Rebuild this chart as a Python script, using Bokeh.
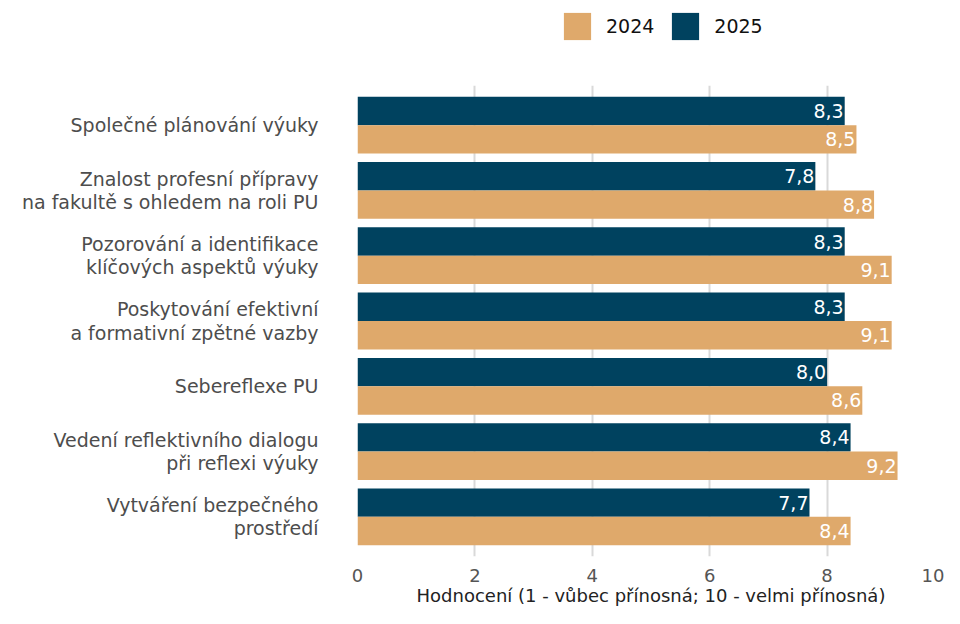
from bokeh.plotting import figure
from bokeh.layouts import column
from bokeh.models import FactorRange, Range1d, Legend, LegendItem, ColumnDataSource, FixedTicker
from bokeh.transform import dodge
from bokeh.core.properties import value
from bokeh.embed import file_html
from bokeh.resources import INLINE

# ---- data ----
categories = [
    "Společné plánování výuky",
    "Znalost profesní přípravy\nna fakultě s ohledem na roli PU",
    "Pozorování a identifikace\nklíčových aspektů výuky",
    "Poskytování efektivní\na formativní zpětné vazby",
    "Sebereflexe PU",
    "Vedení reflektivního dialogu\npři reflexi výuky",
    "Vytváření bezpečného\nprostředí",
]
values_2024 = [8.5, 8.8, 9.1, 9.1, 8.6, 9.2, 8.4]
values_2025 = [8.3, 7.8, 8.3, 8.3, 8.0, 8.4, 7.7]
series_names = ["2024", "2025"]
x_ticks = [0, 2, 4, 6, 8, 10]
x_title = "Hodnocení (1 - vůbec přínosná; 10 - velmi přínosná)"

# ---- styles ----
C24 = "#dfa96b"
C25 = "#00425f"
FONT = "DejaVu Sans"

W = 944
LEG_H = 77
H = 608 - LEG_H
LEFT, TOP, BOTTOM = 357, 8, 49

def fmt(v):
    return f"{v:.1f}".replace(".", ",")

src = ColumnDataSource(dict(
    cat=categories,
    v24=values_2024,
    v25=values_2025,
    l24=[fmt(v) for v in values_2024],
    l25=[fmt(v) for v in values_2025],
))

# ---- legend strip (key glyphs only; their single bar lies outside the strip's range) ----
lf = figure(width=W, height=LEG_H, x_range=Range1d(0, 1), y_range=Range1d(0, 1),
            output_backend="svg", toolbar_location=None,
            min_border_left=LEFT, min_border_right=0, min_border_top=0, min_border_bottom=0)
lf.axis.visible = False
lf.grid.visible = False
lf.outline_line_color = None
key_src = ColumnDataSource(dict(y=[-5.0], r=[-5.0]))
d24 = lf.hbar(y="y", right="r", left=-6.0, height=0.5, fill_color=C24, line_color=None, source=key_src)
d25 = lf.hbar(y="y", right="r", left=-6.0, height=0.5, fill_color=C25, line_color=None, source=key_src)
legend = Legend(items=[LegendItem(label=series_names[0], renderers=[d24], index=0),
                       LegendItem(label=series_names[1], renderers=[d25], index=0)],
                orientation="horizontal", location=(203, 34))
legend.padding = 0
legend.margin = 0
legend.spacing = 14
legend.label_standoff = 12
legend.glyph_width = 34
legend.glyph_height = 34
legend.label_text_font = FONT
legend.label_text_font_size = "19px"
legend.label_text_color = "#111111"
legend.border_line_color = None
legend.background_fill_alpha = 0
lf.add_layout(legend, "center")

# ---- main chart ----
p = figure(
    width=W, height=H,
    y_range=FactorRange(factors=categories[::-1], range_padding=0.0307),
    x_range=Range1d(0, 10),
    output_backend="svg", toolbar_location=None,
    min_border_left=LEFT, min_border_right=0, min_border_top=TOP, min_border_bottom=BOTTOM,
)
p.outline_line_color = None
p.background_fill_color = "white"

BH = 0.435
OFF = BH / 2
r25 = p.hbar(y=dodge("cat", OFF, range=p.y_range), right="v25", left=0, height=BH,
             fill_color=C25, line_color=None, source=src)
r24 = p.hbar(y=dodge("cat", -OFF, range=p.y_range), right="v24", left=0, height=BH,
             fill_color=C24, line_color=None, source=src)

for col, off in (("25", OFF), ("24", -OFF)):
    p.text(x="v" + col, y=dodge("cat", off, range=p.y_range), text="l" + col,
           text_align="right", text_baseline="middle", x_offset=-1,
           text_color="white", text_font=value(FONT), text_font_size="19px", source=src)

# grid
p.ygrid.visible = False
p.xgrid.grid_line_color = "#d9d9d9"
p.xgrid.grid_line_width = 2
p.xaxis.ticker = FixedTicker(ticks=x_ticks)

# x axis
xa = p.xaxis[0]
xa.axis_line_color = None
xa.major_tick_line_color = None
xa.minor_tick_line_color = None
xa.major_tick_out = 0
xa.major_label_standoff = 12
xa.major_label_text_font = FONT
xa.major_label_text_font_size = "18px"
xa.major_label_text_color = "#555555"
xa.axis_label = x_title
xa.axis_label_standoff = 0
xa.axis_label_text_font = FONT
xa.axis_label_text_font_style = "normal"
xa.axis_label_text_font_size = "18px"
xa.axis_label_text_color = "#222222"

# y axis
ya = p.yaxis[0]
ya.axis_line_color = None
ya.major_tick_line_color = None
ya.minor_tick_line_color = None
ya.major_tick_out = 0
ya.major_label_standoff = 39
ya.major_label_text_font = FONT
ya.major_label_text_font_size = "19px"
ya.major_label_text_color = "#4d4d4d"
ya.major_label_text_line_height = 1.05

open("out.html", "w").write(file_html(column(lf, p, spacing=0), INLINE))
